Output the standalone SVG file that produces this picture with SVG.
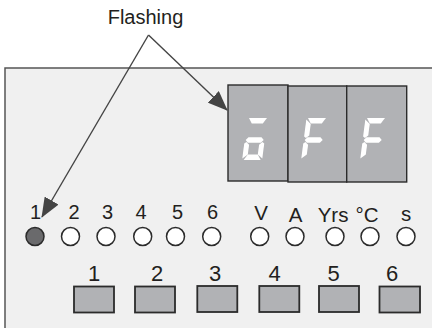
<svg xmlns="http://www.w3.org/2000/svg" xmlns:xlink="http://www.w3.org/1999/xlink" width="432" height="328" viewBox="0 0 432 328">
<style>
  text { font-family: "Liberation Sans", Arial, sans-serif; fill: #231f20; }
  .lbl { font-size: 20px; text-anchor: middle; }
  .unit { font-size: 20.5px; text-anchor: middle; }
  .blbl { font-size: 22px; text-anchor: middle; }
  .digitbox { fill: #b1b2b5; stroke: #2b2b2b; stroke-width: 1.4; }
  .seg { fill: #ffffff; }
  .led { fill: #ffffff; stroke: #2b2b2b; stroke-width: 1.5; }
  .led-on { fill: #6a6a6c; stroke: #2b2b2b; stroke-width: 1.5; }
  .btn { fill: #b1b2b5; stroke: #2b2b2b; stroke-width: 1.8; }
  .conn { stroke: #444; stroke-width: 1.4; fill: none; }
</style>
<defs>
  <marker id="arrow" viewBox="0 0 20 16" refX="19" refY="8" markerWidth="20" markerHeight="16" markerUnits="userSpaceOnUse" orient="auto">
    <path d="M0,0 L20,8 L0,16 Z" fill="#444"/>
  </marker>
  <polygon id="sa" points="1.5,0 19.5,0 16,5.5 5,5.5"/>
  <polygon id="sf" points="0,1.5 5,6 5,17.5 2,20 0,18.5"/>
  <polygon id="sg" points="1,22 3.5,19.3 16.5,19.3 19,22 16.5,24.7 3.5,24.7"/>
  <polygon id="se" points="0,25.5 2,24 5,26.7 5,36.5 0,40.5"/>
  <polygon id="sc" points="20,25.5 20,40.5 15,36.5 15,26.7 18,24"/>
  <polygon id="sd" points="5,36.5 15,36.5 18.5,42 1.5,42"/>
</defs>

<rect id="panel" x="5" y="68" width="440" height="270" fill="#f0f0f0" stroke="#555" stroke-width="1.5"/>

<g id="label-flashing">
  <text x="145.5" y="24" style="font-size:20px" text-anchor="middle">Flashing</text>
</g>

<g id="display">
  <g id="digit1">
    <rect class="digitbox" x="228" y="85" width="60" height="96"/>
    <g class="seg" transform="translate(247.5,118) skewX(-7.3)">
      <use xlink:href="#sa"/><use xlink:href="#sg"/><use xlink:href="#se"/><use xlink:href="#sc"/><use xlink:href="#sd"/>
    </g>
  </g>
  <g id="digit2">
    <rect class="digitbox" x="288" y="86" width="58.7" height="96"/>
    <g class="seg" transform="translate(306.5,118) skewX(-7.3)">
      <use xlink:href="#sa"/><use xlink:href="#sf"/><use xlink:href="#sg"/><use xlink:href="#se"/>
    </g>
  </g>
  <g id="digit3">
    <rect class="digitbox" x="346.7" y="86" width="60" height="96"/>
    <g class="seg" transform="translate(365.5,118) skewX(-7.3)">
      <use xlink:href="#sa"/><use xlink:href="#sf"/><use xlink:href="#sg"/><use xlink:href="#se"/>
    </g>
  </g>
</g>

<g id="indicators">
  <g id="led-1"><text class="lbl" x="35.5" y="219">1</text><circle class="led-on" cx="35" cy="236.5" r="9"/></g>
  <g id="led-2"><text class="lbl" x="74" y="219">2</text><circle class="led" cx="70.5" cy="236.5" r="9"/></g>
  <g id="led-3"><text class="lbl" x="107.5" y="219">3</text><circle class="led" cx="106" cy="236.5" r="9"/></g>
  <g id="led-4"><text class="lbl" x="141" y="219">4</text><circle class="led" cx="142.7" cy="236.5" r="9"/></g>
  <g id="led-5"><text class="lbl" x="177.5" y="219">5</text><circle class="led" cx="175.5" cy="236.5" r="9"/></g>
  <g id="led-6"><text class="lbl" x="212.5" y="219">6</text><circle class="led" cx="211.7" cy="236.5" r="9"/></g>
  <g id="led-V"><text class="unit" x="261" y="219.5">V</text><circle class="led" cx="259.7" cy="236.5" r="9"/></g>
  <g id="led-A"><text class="unit" x="295.5" y="221.5">A</text><circle class="led" cx="295" cy="236.5" r="9"/></g>
  <g id="led-Yrs"><text class="unit" x="333" y="221.5">Yrs</text><circle class="led" cx="335" cy="236.5" r="9"/></g>
  <g id="led-C"><text class="unit" x="367" y="221.5">°C</text><circle class="led" cx="370" cy="236.5" r="9"/></g>
  <g id="led-s"><text class="unit" x="406" y="221">s</text><circle class="led" cx="406" cy="236.5" r="9"/></g>
</g>

<g id="buttons">
  <g id="btn-1"><text class="blbl" x="94" y="281">1</text><rect class="btn" x="74" y="286.5" width="40" height="26"/></g>
  <g id="btn-2"><text class="blbl" x="157" y="281">2</text><rect class="btn" x="135" y="286.5" width="40" height="26"/></g>
  <g id="btn-3"><text class="blbl" x="215" y="281">3</text><rect class="btn" x="197.3" y="286" width="40" height="26"/></g>
  <g id="btn-4"><text class="blbl" x="274.5" y="281">4</text><rect class="btn" x="259.3" y="286" width="40" height="26"/></g>
  <g id="btn-5"><text class="blbl" x="333.5" y="281">5</text><rect class="btn" x="319" y="286" width="40" height="26"/></g>
  <g id="btn-6"><text class="blbl" x="392" y="281">6</text><rect class="btn" x="379.5" y="286.5" width="40.5" height="26"/></g>
</g>

<g id="connectors">
  <line class="conn" x1="148.5" y1="35" x2="42" y2="217" marker-end="url(#arrow)"/>
  <line class="conn" x1="148.5" y1="35" x2="227" y2="110" marker-end="url(#arrow)"/>
</g>
</svg>
